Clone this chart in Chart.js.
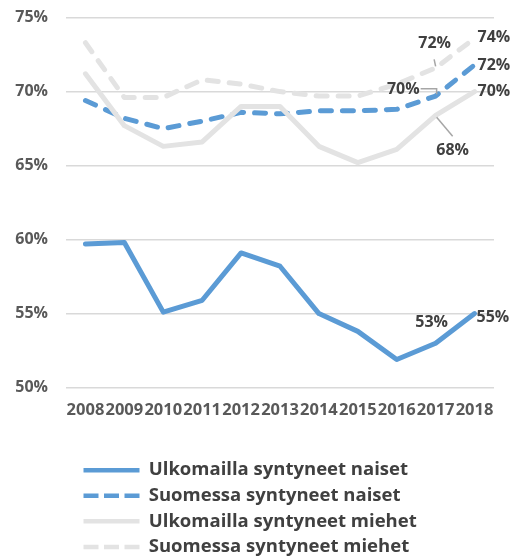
<!DOCTYPE html>
<html>
<head>
<meta charset="utf-8">
<script src="https://cdn.jsdelivr.net/npm/chart.js@4.4.1/dist/chart.umd.min.js"></script>
<style>
  html, body { margin: 0; padding: 0; background: #ffffff; overflow: hidden; }
  #wrap { position: relative; width: 515px; height: 564px; }
</style>
</head>
<body>
<div id="wrap"><canvas id="c" width="515" height="564"></canvas></div>
<script>
// ---- data ----
const years = ['2008','2009','2010','2011','2012','2013','2014','2015','2016','2017','2018'];
const seriesNames = [
  'Ulkomailla syntyneet naiset',
  'Suomessa syntyneet naiset',
  'Ulkomailla syntyneet miehet',
  'Suomessa syntyneet miehet'
];
const ulkomaillaNaiset = [59.7, 59.8, 55.1, 55.9, 59.1, 58.2, 55.0, 53.8, 51.9, 53.0, 55.0];
const suomessaNaiset   = [69.4, 68.2, 67.5, 68.0, 68.6, 68.5, 68.7, 68.7, 68.8, 69.7, 71.8];
const ulkomaillaMiehet = [71.2, 67.7, 66.3, 66.6, 69.0, 69.0, 66.3, 65.2, 66.1, 68.4, 70.0];
const suomessaMiehet   = [73.3, 69.6, 69.6, 70.8, 70.5, 70.0, 69.7, 69.7, 70.5, 71.6, 73.6];
const yMin = 50, yMax = 75, yStep = 5;

// ---- styles ----
const BLUE = '#5B9BD5';
const GRAY_SOLID = '#E3E3E3';
const GRAY_DASH = '#E3E3E3';
const TXT = '#404040';
const FONT = '"Open Sans", Lato, sans-serif';
const LINE_DASH = [11, 11];
const LEGEND_DASH = [15, 5.5];

// data label placement (offsets relative to the point drawn by Chart.js)
const labelSpecs = [
  { ds: 0, idx: 9,  align: 'center', dx: -4,  dy: -21 },
  { ds: 0, idx: 10, align: 'left',   dx: 2,   dy: 4 },
  { ds: 1, idx: 9,  align: 'right',  dx: -16, dy: -7, leader: [[-15, -7.4], [1, -7.4], [1, -1.7]] },
  { ds: 1, idx: 10, align: 'left',   dx: 3,   dy: 0 },
  { ds: 2, idx: 9,  align: 'center', dx: 17,  dy: 35, leader: [[1, 2], [17, 21]] },
  { ds: 2, idx: 10, align: 'left',   dx: 3,   dy: 0 },
  { ds: 3, idx: 9,  align: 'center', dx: -1,  dy: -24, leader: [[-1.5, -8.5], [0, -1.5]] },
  { ds: 3, idx: 10, align: 'left',   dx: 3,   dy: -1 }
];

const dataLabelPlugin = {
  id: 'dataLabelPlugin',
  afterDatasetsDraw(chart) {
    const ctx = chart.ctx;
    ctx.save();
    ctx.font = 'bold 16px ' + FONT;
    ctx.textBaseline = 'middle';
    labelSpecs.forEach(s => {
      const pt = chart.getDatasetMeta(s.ds).data[s.idx];
      const v = chart.data.datasets[s.ds].data[s.idx];
      if (s.leader) {
        ctx.strokeStyle = '#A6A6A6';
        ctx.lineWidth = 1.5;
        ctx.setLineDash([]);
        ctx.beginPath();
        s.leader.forEach((p, i) => {
          const x = pt.x + p[0], y = pt.y + p[1];
          if (i === 0) ctx.moveTo(x, y); else ctx.lineTo(x, y);
        });
        ctx.stroke();
      }
      ctx.fillStyle = TXT;
      ctx.textAlign = s.align;
      ctx.fillText(Math.round(v) + '%', pt.x + s.dx, pt.y + s.dy);
    });
    ctx.restore();
  }
};

// place the legend block below the plot (left inset, fixed gap under the axis)
const legendPlace = {
  id: 'legendPlace',
  afterLayout(chart) {
    const l = chart.legend;
    if (!l) return;
    l.left += 10.4; l.right += 10.4;
    const top = chart.chartArea.bottom + 66.2;
    const h = l.bottom - l.top;
    l.top = top; l.bottom = top + h;
  }
};

const mk = (i, data, color, dash, order) => ({
  label: seriesNames[i],
  data: data,
  borderColor: color,
  backgroundColor: color,
  borderWidth: 5,
  borderDash: dash,
  borderCapStyle: 'round',
  borderJoinStyle: 'round',
  pointRadius: 0,
  pointHoverRadius: 0,
  tension: 0,
  fill: false,
  order: order
});

new Chart(document.getElementById('c'), {
  type: 'line',
  data: {
    labels: years,
    datasets: [
      mk(0, ulkomaillaNaiset, BLUE, [], 4),
      mk(1, suomessaNaiset, BLUE, LINE_DASH, 3),
      mk(2, ulkomaillaMiehet, GRAY_SOLID, [], 2),
      mk(3, suomessaMiehet, GRAY_DASH, LINE_DASH, 1)
    ]
  },
  options: {
    responsive: false,
    animation: false,
    events: [],
    layout: { padding: { top: 0, right: 21, left: 0, bottom: 0 } },
    scales: {
      x: {
        offset: true,
        grid: { display: false, drawTicks: false },
        border: { display: false },
        ticks: {
          color: '#595959',
          font: { family: FONT, size: 16.5, weight: 'bold' },
          padding: 13,
          maxRotation: 0,
          minRotation: 0,
          autoSkip: false
        },
        afterFit(scale) { scale.height = 64; }
      },
      y: {
        min: yMin,
        max: yMax,
        grid: { color: '#D9D9D9', lineWidth: 1.5, drawTicks: true, tickLength: 10, tickColor: 'rgba(0,0,0,0)' },
        border: { display: false },
        ticks: {
          stepSize: yStep,
          color: '#595959',
          font: { family: FONT, size: 16, weight: 'bold' },
          padding: 8,
          callback: v => v + '%'
        },
        afterFit(scale) { scale.width = 66; }
      }
    },
    plugins: {
      tooltip: { enabled: false },
      legend: {
        position: 'bottom',
        align: 'start',
        fullSize: false,
        labels: {
          usePointStyle: true,
          pointStyle: 'line',
          pointStyleWidth: 56,
          padding: 7.1,
          color: TXT,
          font: { family: FONT, size: 18.5, weight: 'bold' },
          generateLabels(chart) {
            return chart.data.datasets.map((ds, i) => ({
              text: ds.label,
              datasetIndex: i,
              fillStyle: ds.borderColor,
              strokeStyle: ds.borderColor,
              lineWidth: 4.5,
              lineDash: ds.borderDash.length ? LEGEND_DASH : [],
              lineCap: 'butt',
              pointStyle: 'line',
              hidden: false,
              fontColor: TXT
            }));
          }
        }
      }
    }
  },
  plugins: [dataLabelPlugin, legendPlace]
});
</script>
</body>
</html>
